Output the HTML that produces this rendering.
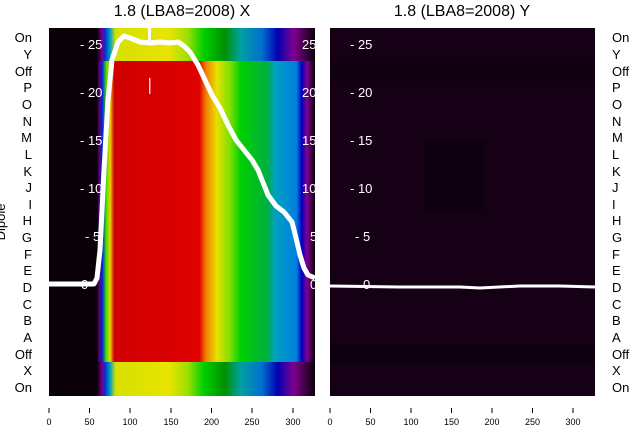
<!DOCTYPE html>
<html><head><meta charset="utf-8"><style>
body{margin:0;background:#fff}
svg{display:block;font-family:"Liberation Sans","DejaVu Sans",sans-serif}
</style></head><body>
<svg width="640" height="440" viewBox="0 0 640 440" xmlns="http://www.w3.org/2000/svg">
<defs>
<linearGradient id="gt" x1="49" x2="315" gradientUnits="userSpaceOnUse">
<stop offset="0" stop-color="#0a0008"/><stop offset="0.18" stop-color="#0a0008"/>
<stop offset="0.2" stop-color="#7a0090"/><stop offset="0.21" stop-color="#0030d0"/>
<stop offset="0.23" stop-color="#00a0c0"/><stop offset="0.25" stop-color="#d8e000"/>
<stop offset="0.45" stop-color="#e8e400"/><stop offset="0.52" stop-color="#a0e000"/>
<stop offset="0.58" stop-color="#00d000"/><stop offset="0.66" stop-color="#009000"/>
<stop offset="0.72" stop-color="#00a0a0"/><stop offset="0.8" stop-color="#0070d0"/>
<stop offset="0.86" stop-color="#0000b0"/><stop offset="0.92" stop-color="#800090"/>
<stop offset="1" stop-color="#0a0008"/></linearGradient>
<linearGradient id="gm" x1="49" x2="315" gradientUnits="userSpaceOnUse">
<stop offset="0" stop-color="#0a0008"/><stop offset="0.18" stop-color="#0a0008"/>
<stop offset="0.19" stop-color="#600080"/><stop offset="0.2" stop-color="#0020e0"/>
<stop offset="0.215" stop-color="#40e000"/><stop offset="0.23" stop-color="#f0d000"/>
<stop offset="0.245" stop-color="#d00000"/><stop offset="0.565" stop-color="#e00000"/>
<stop offset="0.59" stop-color="#f08000"/><stop offset="0.63" stop-color="#e8e000"/>
<stop offset="0.68" stop-color="#80e000"/><stop offset="0.72" stop-color="#00d000"/>
<stop offset="0.82" stop-color="#00b040"/><stop offset="0.85" stop-color="#00a0c0"/>
<stop offset="0.93" stop-color="#0080e0"/><stop offset="0.95" stop-color="#0000c0"/>
<stop offset="0.97" stop-color="#800090"/><stop offset="1" stop-color="#0a0008"/></linearGradient>
</defs>
<text x="182" y="16" font-size="16" text-anchor="middle">1.8 (LBA8=2008) X</text>
<text x="462" y="16" font-size="16" text-anchor="middle">1.8 (LBA8=2008) Y</text>
<rect x="49" y="28" width="266" height="34" fill="url(#gt)"/>
<rect x="49" y="61" width="266" height="302" fill="url(#gm)"/>
<rect x="49" y="362" width="266" height="34" fill="url(#gt)"/>
<rect x="330" y="28" width="265" height="368" fill="#160016"/>
<rect x="330" y="62" width="265" height="20" fill="#100010" opacity="0.8"/>
<rect x="425" y="140" width="60" height="70" fill="#0e000e"/>
<rect x="330" y="345" width="265" height="20" fill="#0f000f"/>
<g fill="#fff" font-size="13">
<text x="80" y="49">- 25</text><text x="80" y="97">- 20</text><text x="80" y="145">- 15</text><text x="80" y="193">- 10</text><text x="85" y="241">- 5</text><text x="81" y="289">0</text>
<text x="302" y="49">25</text><text x="302" y="97">20</text><text x="302" y="145">15</text><text x="302" y="193">10</text><text x="310" y="241">5</text><text x="310" y="289">0</text>
<text x="350" y="49">- 25</text><text x="350" y="97">- 20</text><text x="350" y="145">- 15</text><text x="350" y="193">- 10</text><text x="355" y="241">- 5</text><text x="355" y="289">- 0</text>
</g>
<rect x="148" y="28" width="3" height="16" fill="#fff"/>
<rect x="149" y="78" width="1.5" height="16" fill="#fff" opacity="0.8"/>
<polyline fill="none" stroke="#fff" stroke-width="5" stroke-linejoin="round" points="49,284 94,284 97,278 100,250 104,170 108,100 112,60 118,42 124,36 130,38 140,42 150,43 160,42 170,43 178,42 184,46 190,52 198,65 205,80 212,95 220,108 228,125 236,140 244,150 252,160 258,170 262,180 268,195 276,206 284,212 292,222 296,238 300,255 304,268 308,275 315,278"/>
<polyline fill="none" stroke="#fff" stroke-width="3" points="330,286 400,287 460,287 480,288 520,286 560,286 595,287"/>
<g font-size="13" text-anchor="end">
<text x="32" y="42">On</text><text x="32" y="59">Y</text><text x="32" y="76">Off</text><text x="32" y="92">P</text><text x="32" y="109">O</text><text x="32" y="126">N</text><text x="32" y="142">M</text><text x="32" y="159">L</text><text x="32" y="176">K</text><text x="32" y="192">J</text><text x="32" y="209">I</text><text x="32" y="225">H</text><text x="32" y="242">G</text><text x="32" y="259">F</text><text x="32" y="275">E</text><text x="32" y="292">D</text><text x="32" y="309">C</text><text x="32" y="325">B</text><text x="32" y="342">A</text><text x="32" y="359">Off</text><text x="32" y="375">X</text><text x="32" y="392">On</text>
</g>
<g font-size="13">
<text x="612" y="42">On</text><text x="612" y="59">Y</text><text x="612" y="76">Off</text><text x="612" y="92">P</text><text x="612" y="109">O</text><text x="612" y="126">N</text><text x="612" y="142">M</text><text x="612" y="159">L</text><text x="612" y="176">K</text><text x="612" y="192">J</text><text x="612" y="209">I</text><text x="612" y="225">H</text><text x="612" y="242">G</text><text x="612" y="259">F</text><text x="612" y="275">E</text><text x="612" y="292">D</text><text x="612" y="309">C</text><text x="612" y="325">B</text><text x="612" y="342">A</text><text x="612" y="359">Off</text><text x="612" y="375">X</text><text x="612" y="392">On</text>
</g>
<text transform="translate(5,222) rotate(-90)" font-size="13" text-anchor="middle">Dipole</text>
<g font-size="9" text-anchor="middle" stroke="none">
<g stroke="#000" stroke-width="1">
<line x1="49" y1="408" x2="49" y2="413"/><line x1="89.5" y1="408" x2="89.5" y2="413"/><line x1="130" y1="408" x2="130" y2="413"/><line x1="171" y1="408" x2="171" y2="413"/><line x1="211.5" y1="408" x2="211.5" y2="413"/><line x1="252" y1="408" x2="252" y2="413"/><line x1="293" y1="408" x2="293" y2="413"/>
<line x1="330" y1="408" x2="330" y2="413"/><line x1="370.5" y1="408" x2="370.5" y2="413"/><line x1="411" y1="408" x2="411" y2="413"/><line x1="451.5" y1="408" x2="451.5" y2="413"/><line x1="492" y1="408" x2="492" y2="413"/><line x1="532.5" y1="408" x2="532.5" y2="413"/><line x1="573" y1="408" x2="573" y2="413"/>
</g>
<text x="49" y="425">0</text><text x="89.5" y="425">50</text><text x="130" y="425">100</text><text x="171" y="425">150</text><text x="211.5" y="425">200</text><text x="252" y="425">250</text><text x="293" y="425">300</text>
<text x="330" y="425">0</text><text x="370.5" y="425">50</text><text x="411" y="425">100</text><text x="451.5" y="425">150</text><text x="492" y="425">200</text><text x="532.5" y="425">250</text><text x="573" y="425">300</text>
</g>
</svg>
</body></html>
